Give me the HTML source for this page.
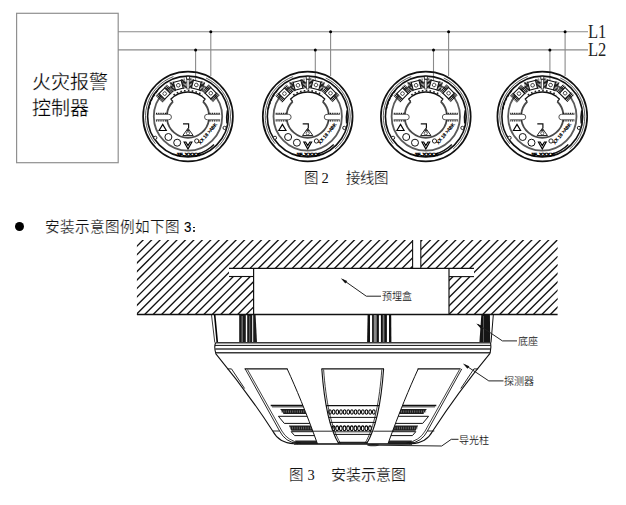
<!DOCTYPE html>
<html lang="zh-CN">
<head>
<meta charset="utf-8">
<style>
html,body{margin:0;padding:0;background:#fff;}
body{width:626px;height:505px;overflow:hidden;position:relative;font-family:"Liberation Serif",serif;}
svg{position:absolute;left:0;top:0;}
.t{position:absolute;white-space:nowrap;color:#111;line-height:1;}
</style>
</head>
<body>
<svg width="626" height="505" viewBox="0 0 626 505">
<defs>
  <pattern id="hp" width="4" height="1.3" patternUnits="userSpaceOnUse">
    <rect width="4" height="0.85" fill="#111"/>
  </pattern>
  <g id="term">
    <rect x="-7.9" y="-4.9" width="4.2" height="9.8" fill="url(#hp)"/>
    <rect x="3.7" y="-4.9" width="4.2" height="9.8" fill="url(#hp)"/>
    <rect x="-4" y="-4" width="8" height="8" fill="#fff" stroke="#111" stroke-width="1.1"/>
    <circle r="1.8" fill="none" stroke="#222" stroke-width="0.8"/>
  </g>
  <g id="det">
    <!-- top gray band behind terminals -->
    <!-- outer rings -->
    <circle r="44.9" fill="none" stroke="#111" stroke-width="1.7"/>
    <path d="M -32.56,27.32 A 42.5 42.5 0 0 1 -14.54,-39.94 M 17.96,-38.52 A 42.5 42.5 0 0 1 27.32,32.56" fill="none" stroke="#333" stroke-width="0.8"/>
    <circle r="40.4" fill="none" stroke="#111" stroke-width="1.6"/>
    <path d="M -39.5,-7 A 40 40 0 0 1 -30,-26.5" fill="none" stroke="#111" stroke-width="1.4" stroke-dasharray="3 1.5"/>
    <path d="M 39,7 A 40 40 0 0 1 39.5,-6" fill="none" stroke="#111" stroke-width="1.6"/>
    <path d="M 10,37.5 A 38.5 38.5 0 0 0 26,28" fill="none" stroke="#111" stroke-width="1.4"/>
    <circle r="34.2" fill="none" stroke="#5a5a5a" stroke-width="1.8"/>
    <!-- inner opening -->
    <path d="M -21.1,-2.2 A 21.2 21.2 0 0 1 -15,-15 M 15,-15 A 21.2 21.2 0 0 1 21.1,-2.2 M 20.95,3.3 A 21.2 21.2 0 0 1 -20.95,3.3" fill="none" stroke="#4a4a4a" stroke-width="1.8"/>
    <path d="M -17.3,-17.3 A 24.5 24.5 0 0 1 17.3,-17.3" fill="none" stroke="#111" stroke-width="1.4"/><path d="M -14.5,-21.5 A 26 26 0 0 1 14.5,-21.5" fill="none" stroke="#222" stroke-width="1.6" stroke-dasharray="1.6 2.2"/><path d="M -15,-15 L -17.3,-17.3 M 15,-15 L 17.3,-17.3" stroke="#222" stroke-width="1.2"/>
    <!-- tabs -->
    <path d="M -32.2,-2.2 L -19.3,-2.2 A 2.75 2.75 0 0 1 -19.3,3.3 L -32.2,3.3" fill="#fff" stroke="#555" stroke-width="1"/>
    <path d="M 32.2,-2.2 L 19.3,-2.2 A 2.75 2.75 0 0 0 19.3,3.3 L 32.2,3.3" fill="#fff" stroke="#555" stroke-width="1"/>
    <g stroke="#111" stroke-width="1.2" stroke-dasharray="1 0.8">
      <line x1="-32" y1="-3.2" x2="-20.5" y2="-3.2"/><line x1="-32" y1="4.3" x2="-20.5" y2="4.3"/>
      <line x1="20.5" y1="-3.2" x2="32" y2="-3.2"/><line x1="20.5" y1="4.3" x2="32" y2="4.3"/>
    </g>
    <!-- terminals -->
    <use href="#term" transform="translate(-23.3,-22.9) rotate(-45)"/>
    <use href="#term" transform="translate(-9.7,-31.2) rotate(-15)"/>
    <use href="#term" transform="translate(8.3,-31.5) rotate(15)"/>
    <use href="#term" transform="translate(22.8,-23.3) rotate(45)"/>
    <rect x="-1.1" y="-37" width="2.2" height="9.5" fill="#fff" stroke="#222" stroke-width="0.7"/>
    <rect x="-1.5" y="-40.2" width="3" height="2.8" fill="#fff" stroke="#111" stroke-width="0.8"/>
    <!-- small ring circles -->
    <circle cx="-32.7" cy="21.3" r="1.6" fill="#fff" stroke="#111" stroke-width="0.9"/>
    <circle cx="36.6" cy="11.4" r="1.6" fill="#fff" stroke="#111" stroke-width="0.9"/>
    <!-- lower symbols -->
    <path d="M -25.3,7.9 L -21.7,14 L -28.9,14 Z" fill="none" stroke="#000" stroke-width="1.15" stroke-linejoin="miter"/>
    <circle cx="-19.6" cy="20.5" r="3.5" fill="none" stroke="#111" stroke-width="1"/>
    <circle cx="-10.8" cy="26.2" r="3.5" fill="none" stroke="#111" stroke-width="1"/>
    <path d="M -3.9,25.5 L 0,32.6 L 3.9,25.5 L 2.1,25.5 L 0,29.1 L -2.1,25.5 Z" fill="none" stroke="#000" stroke-width="1.15" stroke-linejoin="miter"/>
    <circle cx="8.7" cy="24.5" r="2.1" fill="none" stroke="#111" stroke-width="0.9"/>
    <text transform="translate(12.6,27.9) rotate(-50)" font-size="4.6" font-family="Liberation Sans" fill="#000" stroke="#000" stroke-width="0.25">XX 18 &gt;ABK</text>
    <path d="M -5,7.4 L 0.6,7.4 L 0.6,12" fill="none" stroke="#111" stroke-width="1.2"/>
    <path d="M 0,11.8 L -5.2,19 L 5.2,19 Z" fill="#fff" stroke="#111" stroke-width="0.9"/><path d="M 0,11.8 L -2.2,14.8 L 2.2,14.8 Z" fill="#333"/>
    <circle cx="0" cy="16.8" r="1.6" fill="none" stroke="#222" stroke-width="0.7"/>
    <text x="0" y="39.3" font-size="4.4" text-anchor="middle" font-family="Liberation Sans" font-weight="bold" fill="#000" stroke="#000" stroke-width="0.4" transform="scale(1.3,1)">JF-XXXX</text>
  </g>
</defs>
<!-- wiring -->
<g stroke="#8a8a8a" stroke-width="1.1" fill="none">
  <rect x="16.6" y="13.3" width="101.6" height="149.4" stroke="#909090" stroke-width="1.2"/>
  <line x1="118" y1="31.7" x2="588" y2="31.7"/>
  <line x1="118" y1="49.9" x2="588" y2="49.9"/>
  <line x1="195.6" y1="49.9" x2="195.6" y2="84"/>
  <line x1="210.8" y1="31.7" x2="210.8" y2="76"/>
  <line x1="315.3" y1="49.9" x2="315.3" y2="84"/>
  <line x1="330.6" y1="31.7" x2="330.6" y2="76"/>
  <line x1="433.5" y1="49.9" x2="433.5" y2="84"/>
  <line x1="448.6" y1="31.7" x2="448.6" y2="76"/>
  <line x1="549.9" y1="49.9" x2="549.9" y2="84"/>
  <line x1="565.1" y1="31.7" x2="565.1" y2="76"/>
</g>
<g fill="#000">
  <circle cx="195.6" cy="49.9" r="1.5"/><circle cx="210.8" cy="31.7" r="1.5"/>
  <circle cx="315.3" cy="49.9" r="1.5"/><circle cx="330.6" cy="31.7" r="1.5"/>
  <circle cx="433.5" cy="49.9" r="1.5"/><circle cx="448.6" cy="31.7" r="1.5"/>
  <circle cx="549.9" cy="49.9" r="1.5"/><circle cx="565.1" cy="31.7" r="1.5"/>
</g>
<use href="#det" x="188" y="116.5"/>
<use href="#det" x="307.7" y="116.5"/>
<use href="#det" x="425.8" y="116.5"/>
<use href="#det" x="542.3" y="116.5"/>

<!-- ===== Figure 3 ===== -->
<defs>
  <pattern id="hatch" width="5.975" height="20" patternUnits="userSpaceOnUse" patternTransform="rotate(45)">
    <line x1="2.05" y1="-1" x2="2.05" y2="21" stroke="#1c1c1c" stroke-width="1.05"/>
  </pattern>
  <pattern id="oo" x="0.3" y="0" width="3.7" height="20" patternUnits="userSpaceOnUse">
    <ellipse cx="1.85" cy="0" rx="1.25" ry="2.1" fill="#fff" stroke="#111" stroke-width="0.8"/>
  </pattern>
  <pattern id="mm" width="2.2" height="20" patternUnits="userSpaceOnUse">
    <ellipse cx="1.1" cy="0" rx="0.9" ry="2.0" fill="#666" stroke="#000" stroke-width="0.7"/>
  </pattern>
  <clipPath id="bodyclip">
    <path d="M215.5,353.3 Q247.5,392 272.7,431 Q279,443 294,443.8 L411.4,443.8 Q426.4,443 432.7,431 Q457.9,392 490,353.3 Z"/>
  </clipPath>
</defs>
<clipPath id="hclip"><path clip-rule="evenodd" d="M136.9,240 H557.6 V314.4 H136.9 Z M253.5,268.3 H449 V314.4 H253.5 Z M229,268.3 H253.5 V276.5 H229 Z M449,268.3 H474 V276.7 H449 Z M412.5,240 H420.9 V268.3 H412.5 Z"/></clipPath>
<g clip-path="url(#hclip)" stroke="#111" stroke-width="1.35"><path d="M127.25,239 L51.25,315"/><path d="M135.7,239 L59.7,315"/><path d="M144.15,239 L68.15,315"/><path d="M152.6,239 L76.6,315"/><path d="M161.05,239 L85.05,315"/><path d="M169.5,239 L93.5,315"/><path d="M177.95,239 L101.95,315"/><path d="M186.4,239 L110.4,315"/><path d="M194.85,239 L118.85,315"/><path d="M203.3,239 L127.3,315"/><path d="M211.75,239 L135.75,315"/><path d="M220.2,239 L144.2,315"/><path d="M228.65,239 L152.65,315"/><path d="M237.1,239 L161.1,315"/><path d="M245.55,239 L169.55,315"/><path d="M254,239 L178,315"/><path d="M262.45,239 L186.45,315"/><path d="M270.9,239 L194.9,315"/><path d="M279.35,239 L203.35,315"/><path d="M287.8,239 L211.8,315"/><path d="M296.25,239 L220.25,315"/><path d="M304.7,239 L228.7,315"/><path d="M313.15,239 L237.15,315"/><path d="M321.6,239 L245.6,315"/><path d="M330.05,239 L254.05,315"/><path d="M338.5,239 L262.5,315"/><path d="M346.95,239 L270.95,315"/><path d="M355.4,239 L279.4,315"/><path d="M363.85,239 L287.85,315"/><path d="M372.3,239 L296.3,315"/><path d="M380.75,239 L304.75,315"/><path d="M389.2,239 L313.2,315"/><path d="M397.65,239 L321.65,315"/><path d="M406.1,239 L330.1,315"/><path d="M414.55,239 L338.55,315"/><path d="M423,239 L347,315"/><path d="M431.45,239 L355.45,315"/><path d="M439.9,239 L363.9,315"/><path d="M448.35,239 L372.35,315"/><path d="M456.8,239 L380.8,315"/><path d="M465.25,239 L389.25,315"/><path d="M473.7,239 L397.7,315"/><path d="M482.15,239 L406.15,315"/><path d="M490.6,239 L414.6,315"/><path d="M499.05,239 L423.05,315"/><path d="M507.5,239 L431.5,315"/><path d="M515.95,239 L439.95,315"/><path d="M524.4,239 L448.4,315"/><path d="M532.85,239 L456.85,315"/><path d="M541.3,239 L465.3,315"/><path d="M549.75,239 L473.75,315"/><path d="M558.2,239 L482.2,315"/><path d="M566.65,239 L490.65,315"/><path d="M575.1,239 L499.1,315"/><path d="M583.55,239 L507.55,315"/><path d="M592,239 L516,315"/><path d="M600.45,239 L524.45,315"/><path d="M608.9,239 L532.9,315"/><path d="M617.35,239 L541.35,315"/><path d="M625.8,239 L549.8,315"/><path d="M634.25,239 L558.25,315"/><path d="M642.7,239 L566.7,315"/></g>
<g stroke="#111" fill="none">
  <line x1="136.9" y1="314.5" x2="557.6" y2="314.5" stroke-width="1.4"/>
  <line x1="229" y1="268.3" x2="474" y2="268.3" stroke-width="1.2"/>
  <line x1="229" y1="276.5" x2="253.5" y2="276.5" stroke-width="1.1"/>
  <line x1="449" y1="276.6" x2="474" y2="276.6" stroke-width="1.1"/>
  <line x1="253.6" y1="268.3" x2="253.6" y2="314.4" stroke-width="1.2"/>
  <line x1="449" y1="268.3" x2="449" y2="314.4" stroke-width="1.2"/>
  <line x1="412.6" y1="240" x2="412.6" y2="268.3" stroke-width="1.1"/>
  <line x1="420.8" y1="240" x2="420.8" y2="268.3" stroke-width="1.1"/>
</g>
<!-- base (底座) -->
<g>
  <path d="M211.5,315 L214.8,342.6" stroke="#222" stroke-width="0.9" fill="none"/>
  <path d="M214.7,315 L217.3,342.6" stroke="#000" stroke-width="1.6" fill="none"/>
  <!-- left cluster -->
  <rect x="239.2" y="315" width="6.6" height="27.6" fill="#1a1a1a"/>
  <rect x="241.5" y="316" width="1.3" height="26" fill="#777"/>
  <rect x="247.2" y="315" width="5" height="27.6" fill="#1a1a1a"/>
  <rect x="249.2" y="316" width="1" height="26" fill="#666"/>
  <path d="M253.2,315 L255.6,315 L257,342.6 L253.2,342.6 Z" fill="#1a1a1a"/>
  <!-- middle cluster -->
  <g fill="#111">
    <path d="M367.6,315 L370,315 L370,342.6 L367.1,342.6 Z"/>
    <rect x="372.1" y="315" width="1.8" height="27.6"/>
    <rect x="373.9" y="315" width="2.6" height="27.6" fill="#888"/>
    <rect x="376.5" y="315" width="2.4" height="27.6"/>
    <rect x="380.9" y="315" width="2.0" height="27.6"/>
    <rect x="382.9" y="315" width="1.3" height="27.6" fill="#777"/>
    <rect x="384.2" y="315" width="2.7" height="27.6"/>
    <path d="M389,315 L391.2,315 L391.4,342.6 L389,342.6 Z"/>
  </g>
  <!-- right cluster -->
  <path d="M481.3,315 L489.9,315 L490.2,342.6 L479.4,342.6 Z" fill="#151515"/>
  <rect x="483" y="316" width="1" height="26" fill="#555"/>
  <path d="M493.3,315 L491,342.6" stroke="#111" stroke-width="1"/>
</g>
<!-- rim -->
<g stroke="#111" fill="none">
  <path d="M215.6,342.7 H490.6" stroke-width="1.5" stroke="#3a3a3a"/>
  <path d="M215,345.4 H490.8" stroke-width="1"/>
  <path d="M215.2,349 H490.6" stroke-width="1.4" stroke="#3a3a3a"/>
  <path d="M215.8,352.8 H490.1" stroke-width="1.4" stroke="#3a3a3a"/>
  <path d="M215.6,342.7 Q213.8,347 215.8,353.3" stroke-width="1.1"/>
  <path d="M490.6,342.7 Q491.5,347 490.1,353.3" stroke-width="1.1"/>
</g>
<!-- grill rows -->
<g clip-path="url(#bodyclip)">
<path d="M270.7,405.5 L318,405.5" fill="none" stroke="#111" stroke-width="1.4"/>
<path d="M272,406.9 L318,406.9" fill="none" stroke="#111" stroke-width="0.8"/>
<path d="M280.2,409.1 L318,409.1 L318,414 L283.6,414 Z" fill="#1e1e1e"/>
<ellipse cx="281.8" cy="411.55" rx="0.35" ry="1.35" fill="#8a8a8a"/>
<ellipse cx="284" cy="411.55" rx="0.35" ry="1.35" fill="#8a8a8a"/>
<ellipse cx="286.2" cy="411.55" rx="0.35" ry="1.35" fill="#8a8a8a"/>
<ellipse cx="288.4" cy="411.55" rx="0.35" ry="1.35" fill="#8a8a8a"/>
<ellipse cx="290.6" cy="411.55" rx="0.35" ry="1.35" fill="#8a8a8a"/>
<ellipse cx="292.8" cy="411.55" rx="0.35" ry="1.35" fill="#8a8a8a"/>
<ellipse cx="295" cy="411.55" rx="0.35" ry="1.35" fill="#8a8a8a"/>
<ellipse cx="297.2" cy="411.55" rx="0.35" ry="1.35" fill="#8a8a8a"/>
<ellipse cx="299.4" cy="411.55" rx="0.35" ry="1.35" fill="#8a8a8a"/>
<ellipse cx="301.6" cy="411.55" rx="0.35" ry="1.35" fill="#8a8a8a"/>
<ellipse cx="303.8" cy="411.55" rx="0.35" ry="1.35" fill="#8a8a8a"/>
<ellipse cx="306" cy="411.55" rx="0.35" ry="1.35" fill="#8a8a8a"/>
<ellipse cx="308.2" cy="411.55" rx="0.35" ry="1.35" fill="#8a8a8a"/>
<ellipse cx="310.4" cy="411.55" rx="0.35" ry="1.35" fill="#8a8a8a"/>
<ellipse cx="312.6" cy="411.55" rx="0.35" ry="1.35" fill="#8a8a8a"/>
<ellipse cx="314.8" cy="411.55" rx="0.35" ry="1.35" fill="#8a8a8a"/>
<ellipse cx="317" cy="411.55" rx="0.35" ry="1.35" fill="#8a8a8a"/>
<path d="M318,416.3 L278.4,416.3 L284.3,423.4 L318,423.4" fill="none" stroke="#111" stroke-width="1.0"/>
<path d="M288.9,425.4 L318,425.4 L318,430.7 L291.4,430.7 Z" fill="#1e1e1e"/>
<ellipse cx="290.5" cy="428.05" rx="0.35" ry="1.55" fill="#8a8a8a"/>
<ellipse cx="292.7" cy="428.05" rx="0.35" ry="1.55" fill="#8a8a8a"/>
<ellipse cx="294.9" cy="428.05" rx="0.35" ry="1.55" fill="#8a8a8a"/>
<ellipse cx="297.1" cy="428.05" rx="0.35" ry="1.55" fill="#8a8a8a"/>
<ellipse cx="299.3" cy="428.05" rx="0.35" ry="1.55" fill="#8a8a8a"/>
<ellipse cx="301.5" cy="428.05" rx="0.35" ry="1.55" fill="#8a8a8a"/>
<ellipse cx="303.7" cy="428.05" rx="0.35" ry="1.55" fill="#8a8a8a"/>
<ellipse cx="305.9" cy="428.05" rx="0.35" ry="1.55" fill="#8a8a8a"/>
<ellipse cx="308.1" cy="428.05" rx="0.35" ry="1.55" fill="#8a8a8a"/>
<ellipse cx="310.3" cy="428.05" rx="0.35" ry="1.55" fill="#8a8a8a"/>
<ellipse cx="312.5" cy="428.05" rx="0.35" ry="1.55" fill="#8a8a8a"/>
<ellipse cx="314.7" cy="428.05" rx="0.35" ry="1.55" fill="#8a8a8a"/>
<ellipse cx="316.9" cy="428.05" rx="0.35" ry="1.55" fill="#8a8a8a"/>
<path d="M318,431.7 L291.2,431.7 L294.6,435.6 L318,435.6" fill="none" stroke="#111" stroke-width="1.0"/>
<path d="M295,440.4 L318,440.4 L318,444 L297,444 Z" fill="#2a2a2a"/>
<path d="M436.3,405.5 L389,405.5" fill="none" stroke="#111" stroke-width="1.4"/>
<path d="M435,406.9 L389,406.9" fill="none" stroke="#111" stroke-width="0.8"/>
<path d="M426.8,409.1 L389,409.1 L389,414 L423.4,414 Z" fill="#1e1e1e"/>
<ellipse cx="390.6" cy="411.55" rx="0.35" ry="1.35" fill="#8a8a8a"/>
<ellipse cx="392.8" cy="411.55" rx="0.35" ry="1.35" fill="#8a8a8a"/>
<ellipse cx="395" cy="411.55" rx="0.35" ry="1.35" fill="#8a8a8a"/>
<ellipse cx="397.2" cy="411.55" rx="0.35" ry="1.35" fill="#8a8a8a"/>
<ellipse cx="399.4" cy="411.55" rx="0.35" ry="1.35" fill="#8a8a8a"/>
<ellipse cx="401.6" cy="411.55" rx="0.35" ry="1.35" fill="#8a8a8a"/>
<ellipse cx="403.8" cy="411.55" rx="0.35" ry="1.35" fill="#8a8a8a"/>
<ellipse cx="406" cy="411.55" rx="0.35" ry="1.35" fill="#8a8a8a"/>
<ellipse cx="408.2" cy="411.55" rx="0.35" ry="1.35" fill="#8a8a8a"/>
<ellipse cx="410.4" cy="411.55" rx="0.35" ry="1.35" fill="#8a8a8a"/>
<ellipse cx="412.6" cy="411.55" rx="0.35" ry="1.35" fill="#8a8a8a"/>
<ellipse cx="414.8" cy="411.55" rx="0.35" ry="1.35" fill="#8a8a8a"/>
<ellipse cx="417" cy="411.55" rx="0.35" ry="1.35" fill="#8a8a8a"/>
<ellipse cx="419.2" cy="411.55" rx="0.35" ry="1.35" fill="#8a8a8a"/>
<ellipse cx="421.4" cy="411.55" rx="0.35" ry="1.35" fill="#8a8a8a"/>
<ellipse cx="423.6" cy="411.55" rx="0.35" ry="1.35" fill="#8a8a8a"/>
<ellipse cx="425.8" cy="411.55" rx="0.35" ry="1.35" fill="#8a8a8a"/>
<path d="M389,416.3 L428.6,416.3 L422.7,423.4 L389,423.4" fill="none" stroke="#111" stroke-width="1.0"/>
<path d="M418.1,425.4 L389,425.4 L389,430.7 L415.6,430.7 Z" fill="#1e1e1e"/>
<ellipse cx="390.6" cy="428.05" rx="0.35" ry="1.55" fill="#8a8a8a"/>
<ellipse cx="392.8" cy="428.05" rx="0.35" ry="1.55" fill="#8a8a8a"/>
<ellipse cx="395" cy="428.05" rx="0.35" ry="1.55" fill="#8a8a8a"/>
<ellipse cx="397.2" cy="428.05" rx="0.35" ry="1.55" fill="#8a8a8a"/>
<ellipse cx="399.4" cy="428.05" rx="0.35" ry="1.55" fill="#8a8a8a"/>
<ellipse cx="401.6" cy="428.05" rx="0.35" ry="1.55" fill="#8a8a8a"/>
<ellipse cx="403.8" cy="428.05" rx="0.35" ry="1.55" fill="#8a8a8a"/>
<ellipse cx="406" cy="428.05" rx="0.35" ry="1.55" fill="#8a8a8a"/>
<ellipse cx="408.2" cy="428.05" rx="0.35" ry="1.55" fill="#8a8a8a"/>
<ellipse cx="410.4" cy="428.05" rx="0.35" ry="1.55" fill="#8a8a8a"/>
<ellipse cx="412.6" cy="428.05" rx="0.35" ry="1.55" fill="#8a8a8a"/>
<ellipse cx="414.8" cy="428.05" rx="0.35" ry="1.55" fill="#8a8a8a"/>
<ellipse cx="417" cy="428.05" rx="0.35" ry="1.55" fill="#8a8a8a"/>
<path d="M389,431.7 L415.8,431.7 L412.4,435.6 L389,435.6" fill="none" stroke="#111" stroke-width="1.0"/>
<path d="M412,440.4 L389,440.4 L389,444 L410,444 Z" fill="#2a2a2a"/>
<path d="M318,405.6 L388,405.6" fill="none" stroke="#111" stroke-width="1.4"/>
<ellipse cx="330" cy="411.95" rx="1.35" ry="2.2" fill="none" stroke="#000" stroke-width="1.05"/>
<ellipse cx="333.65" cy="411.95" rx="1.35" ry="2.2" fill="none" stroke="#000" stroke-width="1.05"/>
<ellipse cx="337.3" cy="411.95" rx="1.35" ry="2.2" fill="none" stroke="#000" stroke-width="1.05"/>
<ellipse cx="340.95" cy="411.95" rx="1.35" ry="2.2" fill="none" stroke="#000" stroke-width="1.05"/>
<ellipse cx="344.6" cy="411.95" rx="1.35" ry="2.2" fill="none" stroke="#000" stroke-width="1.05"/>
<ellipse cx="348.25" cy="411.95" rx="1.35" ry="2.2" fill="none" stroke="#000" stroke-width="1.05"/>
<ellipse cx="351.9" cy="411.95" rx="1.35" ry="2.2" fill="none" stroke="#000" stroke-width="1.05"/>
<ellipse cx="355.55" cy="411.95" rx="1.35" ry="2.2" fill="none" stroke="#000" stroke-width="1.05"/>
<ellipse cx="359.2" cy="411.95" rx="1.35" ry="2.2" fill="none" stroke="#000" stroke-width="1.05"/>
<ellipse cx="362.85" cy="411.95" rx="1.35" ry="2.2" fill="none" stroke="#000" stroke-width="1.05"/>
<ellipse cx="366.5" cy="411.95" rx="1.35" ry="2.2" fill="none" stroke="#000" stroke-width="1.05"/>
<ellipse cx="370.15" cy="411.95" rx="1.35" ry="2.2" fill="none" stroke="#000" stroke-width="1.05"/>
<ellipse cx="373.8" cy="411.95" rx="1.35" ry="2.2" fill="none" stroke="#000" stroke-width="1.05"/>
<path d="M318,417.4 L388,417.4" fill="none" stroke="#111" stroke-width="1.0"/>
<path d="M318,422.4 L388,422.4" fill="none" stroke="#111" stroke-width="1.0"/>
<ellipse cx="333.5" cy="428.25" rx="1.35" ry="2.4" fill="none" stroke="#000" stroke-width="1.05"/>
<ellipse cx="337.15" cy="428.25" rx="1.35" ry="2.4" fill="none" stroke="#000" stroke-width="1.05"/>
<ellipse cx="340.8" cy="428.25" rx="1.35" ry="2.4" fill="none" stroke="#000" stroke-width="1.05"/>
<ellipse cx="344.45" cy="428.25" rx="1.35" ry="2.4" fill="none" stroke="#000" stroke-width="1.05"/>
<ellipse cx="348.1" cy="428.25" rx="1.35" ry="2.4" fill="none" stroke="#000" stroke-width="1.05"/>
<ellipse cx="351.75" cy="428.25" rx="1.35" ry="2.4" fill="none" stroke="#000" stroke-width="1.05"/>
<ellipse cx="355.4" cy="428.25" rx="1.35" ry="2.4" fill="none" stroke="#000" stroke-width="1.05"/>
<ellipse cx="359.05" cy="428.25" rx="1.35" ry="2.4" fill="none" stroke="#000" stroke-width="1.05"/>
<ellipse cx="362.7" cy="428.25" rx="1.35" ry="2.4" fill="none" stroke="#000" stroke-width="1.05"/>
<ellipse cx="366.35" cy="428.25" rx="1.35" ry="2.4" fill="none" stroke="#000" stroke-width="1.05"/>
<ellipse cx="370" cy="428.25" rx="1.35" ry="2.4" fill="none" stroke="#000" stroke-width="1.05"/>
<path d="M318,431.8 L388,431.8" fill="none" stroke="#111" stroke-width="0.9"/>
<path d="M318,434.4 L388,434.4" fill="none" stroke="#111" stroke-width="1.0"/>
<path d="M292,442.8 H414" stroke="#222" stroke-width="2"/>
</g>
<!-- pillars -->
<g id="pA" fill="#fff" stroke="#111" stroke-width="1">
  <path d="M215.5,353.3 Q247.5,392 272.7,431 Q279,443 294,443.8 L298,443.8 Q285,442 279.6,431 L245.2,368.9 L227.3,368.9 Z" stroke="none"/>
  <path d="M245.2,368.9 L279.6,431 Q285,442 298,443.8" fill="none" stroke-width="0.9"/>
  <path d="M247.5,369.6 L281.9,431 Q287.3,440.8 300.5,443" fill="none" stroke-width="0.8"/>
  <path d="M272.7,431 L279.6,431" fill="none" stroke-width="0.9"/>
</g>
<use href="#pA" transform="translate(707,0) scale(-1,1)"/>
<path id="sliv" d="M227.3,368.9 L231.5,368.9 L244.6,388.5" fill="none" stroke="#111" stroke-width="0.9"/>
<use href="#sliv" transform="translate(705.4,0) scale(-1,1)"/>
<g id="pB" fill="#fff" stroke="#111" stroke-width="1">
  <path d="M287.2,368.9 C296,388 306,412 317.4,443.7 L338.8,443.7 C329,428 324,400 321.8,368.9 Z" stroke="none"/>
  <path d="M287.2,368.9 C296,388 306,412 317.4,443.7" fill="none"/>
  <path d="M321.8,368.9 C324,400 329,428 338.8,443.7" fill="none" stroke-width="1.1"/>
  <path d="M323.6,369.5 C325.8,400 331,428 340.6,443.5" fill="none" stroke-width="0.8"/>
  <path d="M311.5,431.2 L332,431.2" fill="none" stroke-width="0.9"/>
</g>
<use href="#pB" transform="translate(705.4,0) scale(-1,1)"/>
<path d="M215.5,353.3 Q247.5,392 272.7,431 Q279,443 294,443.8 M490,353.3 Q457.9,392 432.7,431 Q426.4,443 411.4,443.8" fill="none" stroke="#111" stroke-width="1.1"/>
<!-- window tops -->
<g stroke="#111" stroke-width="1.3">
  <line x1="244.6" y1="368.9" x2="287.6" y2="368.9"/>
  <line x1="321.4" y1="368.9" x2="384" y2="368.9"/>
  <line x1="417.6" y1="368.9" x2="460.6" y2="368.9"/>
</g>
<ellipse cx="373" cy="445.1" rx="6" ry="1.1" fill="#333"/>
<!-- bottom line -->
<path d="M294,444 H412" stroke="#111" stroke-width="1.3"/>
<!-- leaders -->
<g stroke="#222" stroke-width="1" fill="none">
  <path d="M343,279.8 L366.3,296.2 H381"/>
  <path d="M478,324.5 L502.4,340.9 H517"/>
  <path d="M465,365 L488.8,380.9 H503.5"/>
  <path d="M376,445.2 L441.7,446 L451.3,439.3 H458.5"/>
</g>
<g fill="#111">
  <path d="M340.8,278.3 L347.2,280.9 L345.4,283.4 Z"/>
  <path d="M476.3,323.4 L482.6,326 L480.8,328.5 Z"/>
  <path d="M462.9,363.6 L469.3,366.2 L467.5,368.7 Z"/>
</g>
</svg>

<div class="t" style="left:32px;top:72.6px;font-size:19px;color:#000;-webkit-text-stroke:0.25px #fff">火灾报警</div>
<div class="t" style="left:32px;top:98.6px;font-size:19px;color:#000;-webkit-text-stroke:0.25px #fff">控制器</div>
<div class="t" style="left:587.6px;top:22px;font-size:19px;color:#222;transform:scaleX(0.87);transform-origin:0 0">L1</div>
<div class="t" style="left:587.6px;top:39.6px;font-size:19px;color:#222;transform:scaleX(0.87);transform-origin:0 0">L2</div>
<div class="t" style="left:304px;top:171px;font-size:14.5px;-webkit-text-stroke:0.2px #fff">图</div>
<div class="t" style="left:321.6px;top:171px;font-size:14.5px">2</div>
<div class="t" style="left:346px;top:171px;font-size:14.5px;-webkit-text-stroke:0.2px #fff">接线图</div>
<div style="position:absolute;left:15px;top:222px;width:9px;height:9px;border-radius:50%;background:#000"></div>
<div class="t" style="left:44.5px;top:219.5px;font-size:14.6px;-webkit-text-stroke:0.2px #fff">安装示意图例如下图</div>
<div class="t" style="left:183.9px;top:220px;font-size:14.5px;font-family:'Liberation Sans';color:#000;-webkit-text-stroke:0.1px #000;transform:scaleX(0.92);transform-origin:0 0">3</div>
<div style="position:absolute;left:193.4px;top:226.6px;width:1.9px;height:1.9px;border-radius:50%;background:#000"></div>
<div style="position:absolute;left:193.4px;top:230.1px;width:1.9px;height:1.9px;border-radius:50%;background:#000"></div>
<div class="t" style="left:382px;top:292px;font-size:10px;-webkit-text-stroke:0.12px #fff">预埋盒</div>
<div class="t" style="left:518px;top:336.6px;font-size:10px;-webkit-text-stroke:0.12px #fff">底座</div>
<div class="t" style="left:504px;top:376.6px;font-size:10px;-webkit-text-stroke:0.12px #fff">探测器</div>
<div class="t" style="left:459px;top:435.6px;font-size:10px;-webkit-text-stroke:0.12px #fff">导光柱</div>
<div class="t" style="left:288.6px;top:468px;font-size:14.5px;-webkit-text-stroke:0.2px #fff">图</div>
<div class="t" style="left:307.4px;top:468px;font-size:14.5px">3</div>
<div class="t" style="left:330.5px;top:468px;font-size:15px;-webkit-text-stroke:0.2px #fff">安装示意图</div>
</body>
</html>
